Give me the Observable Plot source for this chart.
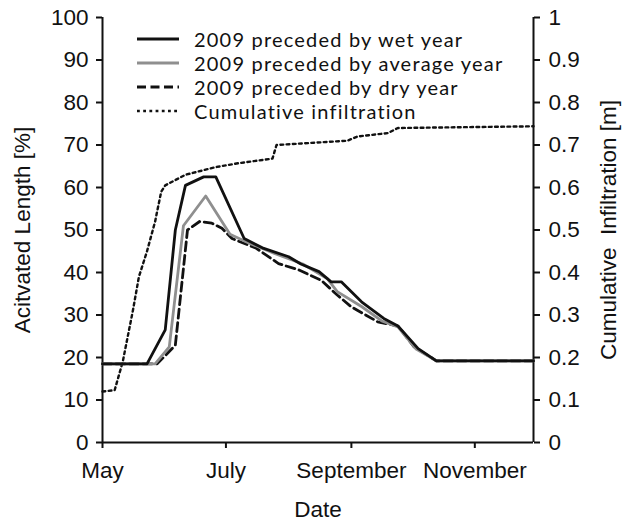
<!DOCTYPE html>
<html>
<head>
<meta charset="utf-8">
<script src="https://cdn.jsdelivr.net/npm/d3@7"></script>
<script src="https://cdn.jsdelivr.net/npm/@observablehq/plot@0.6"></script>
<style>
  body { margin: 0; background: #fff; }
  #chart { position: relative; width: 623px; height: 520px; }
  #legend { position: absolute; left: 136px; top: 27px; font-family: Lato, "Open Sans", sans-serif; font-size: 20px; letter-spacing: 1.2px; color: #111; }
  #legend .row { display: flex; align-items: center; height: 24px; white-space: nowrap; }
  #legend span { line-height: 24px; }
  #legend svg { margin-right: 14px; }
</style>
</head>
<body>
<div id="chart"></div>
<script>
// Activated length (%) of the channel network through 2009
const wetYear = [
  ["2009-05-01", 18.5], ["2009-05-23", 18.5], ["2009-06-01", 26.5], ["2009-06-06", 50],
  ["2009-06-11", 60.5], ["2009-06-20", 62.5], ["2009-06-26", 62.5], ["2009-07-10", 48],
  ["2009-07-19", 45.8], ["2009-08-01", 43.7], ["2009-08-07", 42], ["2009-08-16", 40.2],
  ["2009-08-22", 37.8], ["2009-08-27", 37.8], ["2009-09-06", 33.1], ["2009-09-17", 29.2],
  ["2009-09-24", 27.4], ["2009-10-04", 22.1], ["2009-10-13", 19.2], ["2009-11-30", 19.2]
];
const averageYear = [
  ["2009-05-01", 18.5], ["2009-05-27", 18.5], ["2009-06-03", 22.5], ["2009-06-10", 51],
  ["2009-06-21", 58], ["2009-07-03", 49], ["2009-07-12", 47], ["2009-07-25", 44.5],
  ["2009-08-08", 42], ["2009-08-20", 38.6], ["2009-08-25", 35.5], ["2009-09-06", 32],
  ["2009-09-16", 28.6], ["2009-09-24", 27.2], ["2009-10-03", 22], ["2009-10-13", 19.2],
  ["2009-11-30", 19.2]
];
const dryYear = [
  ["2009-05-01", 18.5], ["2009-05-28", 18.5], ["2009-06-06", 22.9], ["2009-06-12", 50],
  ["2009-06-18", 52], ["2009-06-24", 51.6], ["2009-06-29", 50.4], ["2009-07-04", 48],
  ["2009-07-16", 45.7], ["2009-07-27", 42.1], ["2009-08-06", 40.6], ["2009-08-17", 38.2],
  ["2009-08-25", 34.7], ["2009-09-01", 31.9], ["2009-09-14", 28.4], ["2009-09-24", 27.4],
  ["2009-10-02", 22.5], ["2009-10-13", 19.2], ["2009-11-30", 19.2]
];
// Cumulative infiltration (m), read on the right-hand axis
const infiltration = [
  ["2009-05-01", 0.12], ["2009-05-07", 0.123], ["2009-05-11", 0.19], ["2009-05-16", 0.31],
  ["2009-05-19", 0.39], ["2009-05-23", 0.45], ["2009-05-27", 0.52], ["2009-05-30", 0.59],
  ["2009-06-01", 0.605], ["2009-06-11", 0.63], ["2009-06-26", 0.648], ["2009-07-07", 0.657],
  ["2009-07-24", 0.668], ["2009-07-26", 0.70], ["2009-08-30", 0.71], ["2009-09-04", 0.72],
  ["2009-09-19", 0.728], ["2009-09-24", 0.74], ["2009-11-30", 0.744]
];

const monthTicks = ["2009-05-01", "2009-07-01", "2009-09-01", "2009-11-01"];
const monthLabels = ["May", "July", "September", "November"];
const lengthTicks = [0, 10, 20, 30, 40, 50, 60, 70, 80, 90, 100];
const infiltrationTicks = [0, 0.1, 0.2, 0.3, 0.4, 0.5, 0.6, 0.7, 0.8, 0.9, 1];
const seriesNames = [
  "2009 preceded by wet year",
  "2009 preceded by average year",
  "2009 preceded by dry year",
  "Cumulative infiltration"
];

const parse = d3.utcParse("%Y-%m-%d");
const xDomain = [parse("2009-05-01"), parse("2009-11-30")];
const monthDates = monthTicks.map(parse);
const ink = "#111";

const styles = [
  { stroke: ink, strokeWidth: 2.8 },
  { stroke: "#8f8f8f", strokeWidth: 2.8 },
  { stroke: ink, strokeWidth: 2.8, strokeDasharray: "9,4.5" },
  { stroke: ink, strokeWidth: 2.4, strokeDasharray: "2.8,3.4" }
];

const pctLine = (data, s) => Plot.line(data, { x: d => parse(d[0]), y: d => d[1], ...s });

const chart = Plot.plot({
  width: 623,
  height: 520,
  marginTop: 17,
  marginBottom: 78,
  marginLeft: 102,
  marginRight: 90,
  style: { fontFamily: "'Liberation Sans', Arial, sans-serif", fontSize: "22.5px", color: ink, background: "#fff" },
  x: { type: "utc", domain: xDomain },
  y: { domain: [0, 100] },
  marks: [
    Plot.axisY({
      anchor: "left", ticks: lengthTicks, tickSize: 6, tickPadding: 8, strokeWidth: 2,
      tickFormat: d3.format("d"),
      label: "Acitvated Length [%]", labelAnchor: "center", labelArrow: "none", labelOffset: 88
    }),
    Plot.axisY({
      anchor: "right", ticks: infiltrationTicks.map(v => v * 100), tickSize: 6, tickPadding: 9, strokeWidth: 2,
      tickFormat: d => d3.format("~g")(+(d / 100).toFixed(1)),
      label: "Cumulative \u00a0Infiltration [m]", labelAnchor: "center", labelArrow: "none", labelOffset: 82
    }),
    Plot.axisX({
      ticks: monthDates, tickSize: 6, tickPadding: 14, strokeWidth: 2,
      tickFormat: (d) => monthLabels[monthDates.findIndex(m => +m === +d)],
      label: "Date", labelAnchor: "center", labelArrow: "none", labelOffset: 74
    }),
    Plot.ruleY([0], { stroke: ink, strokeWidth: 2 }),
    Plot.ruleX([xDomain[0], xDomain[1]], { stroke: ink, strokeWidth: 2 }),
    Plot.line(infiltration, { x: d => parse(d[0]), y: d => d[1] * 100, ...styles[3] }),
    pctLine(dryYear, styles[2]),
    pctLine(averageYear, styles[1]),
    pctLine(wetYear, styles[0])
  ]
});

const host = document.getElementById("chart");
host.appendChild(chart);

// Series key inside the upper part of the plot area
const legend = document.createElement("div");
legend.id = "legend";
seriesNames.forEach((name, i) => {
  const row = document.createElement("div");
  row.className = "row";
  const s = styles[i];
  row.innerHTML =
    `<svg width="44" height="8"><line x1="1" x2="43" y1="4" y2="4" stroke="${s.stroke}" stroke-width="${s.strokeWidth}"` +
    (s.strokeDasharray ? ` stroke-dasharray="${s.strokeDasharray}"` : "") +
    `/></svg><span>${name}</span>`;
  legend.appendChild(row);
});
host.appendChild(legend);
</script>
</body>
</html>
